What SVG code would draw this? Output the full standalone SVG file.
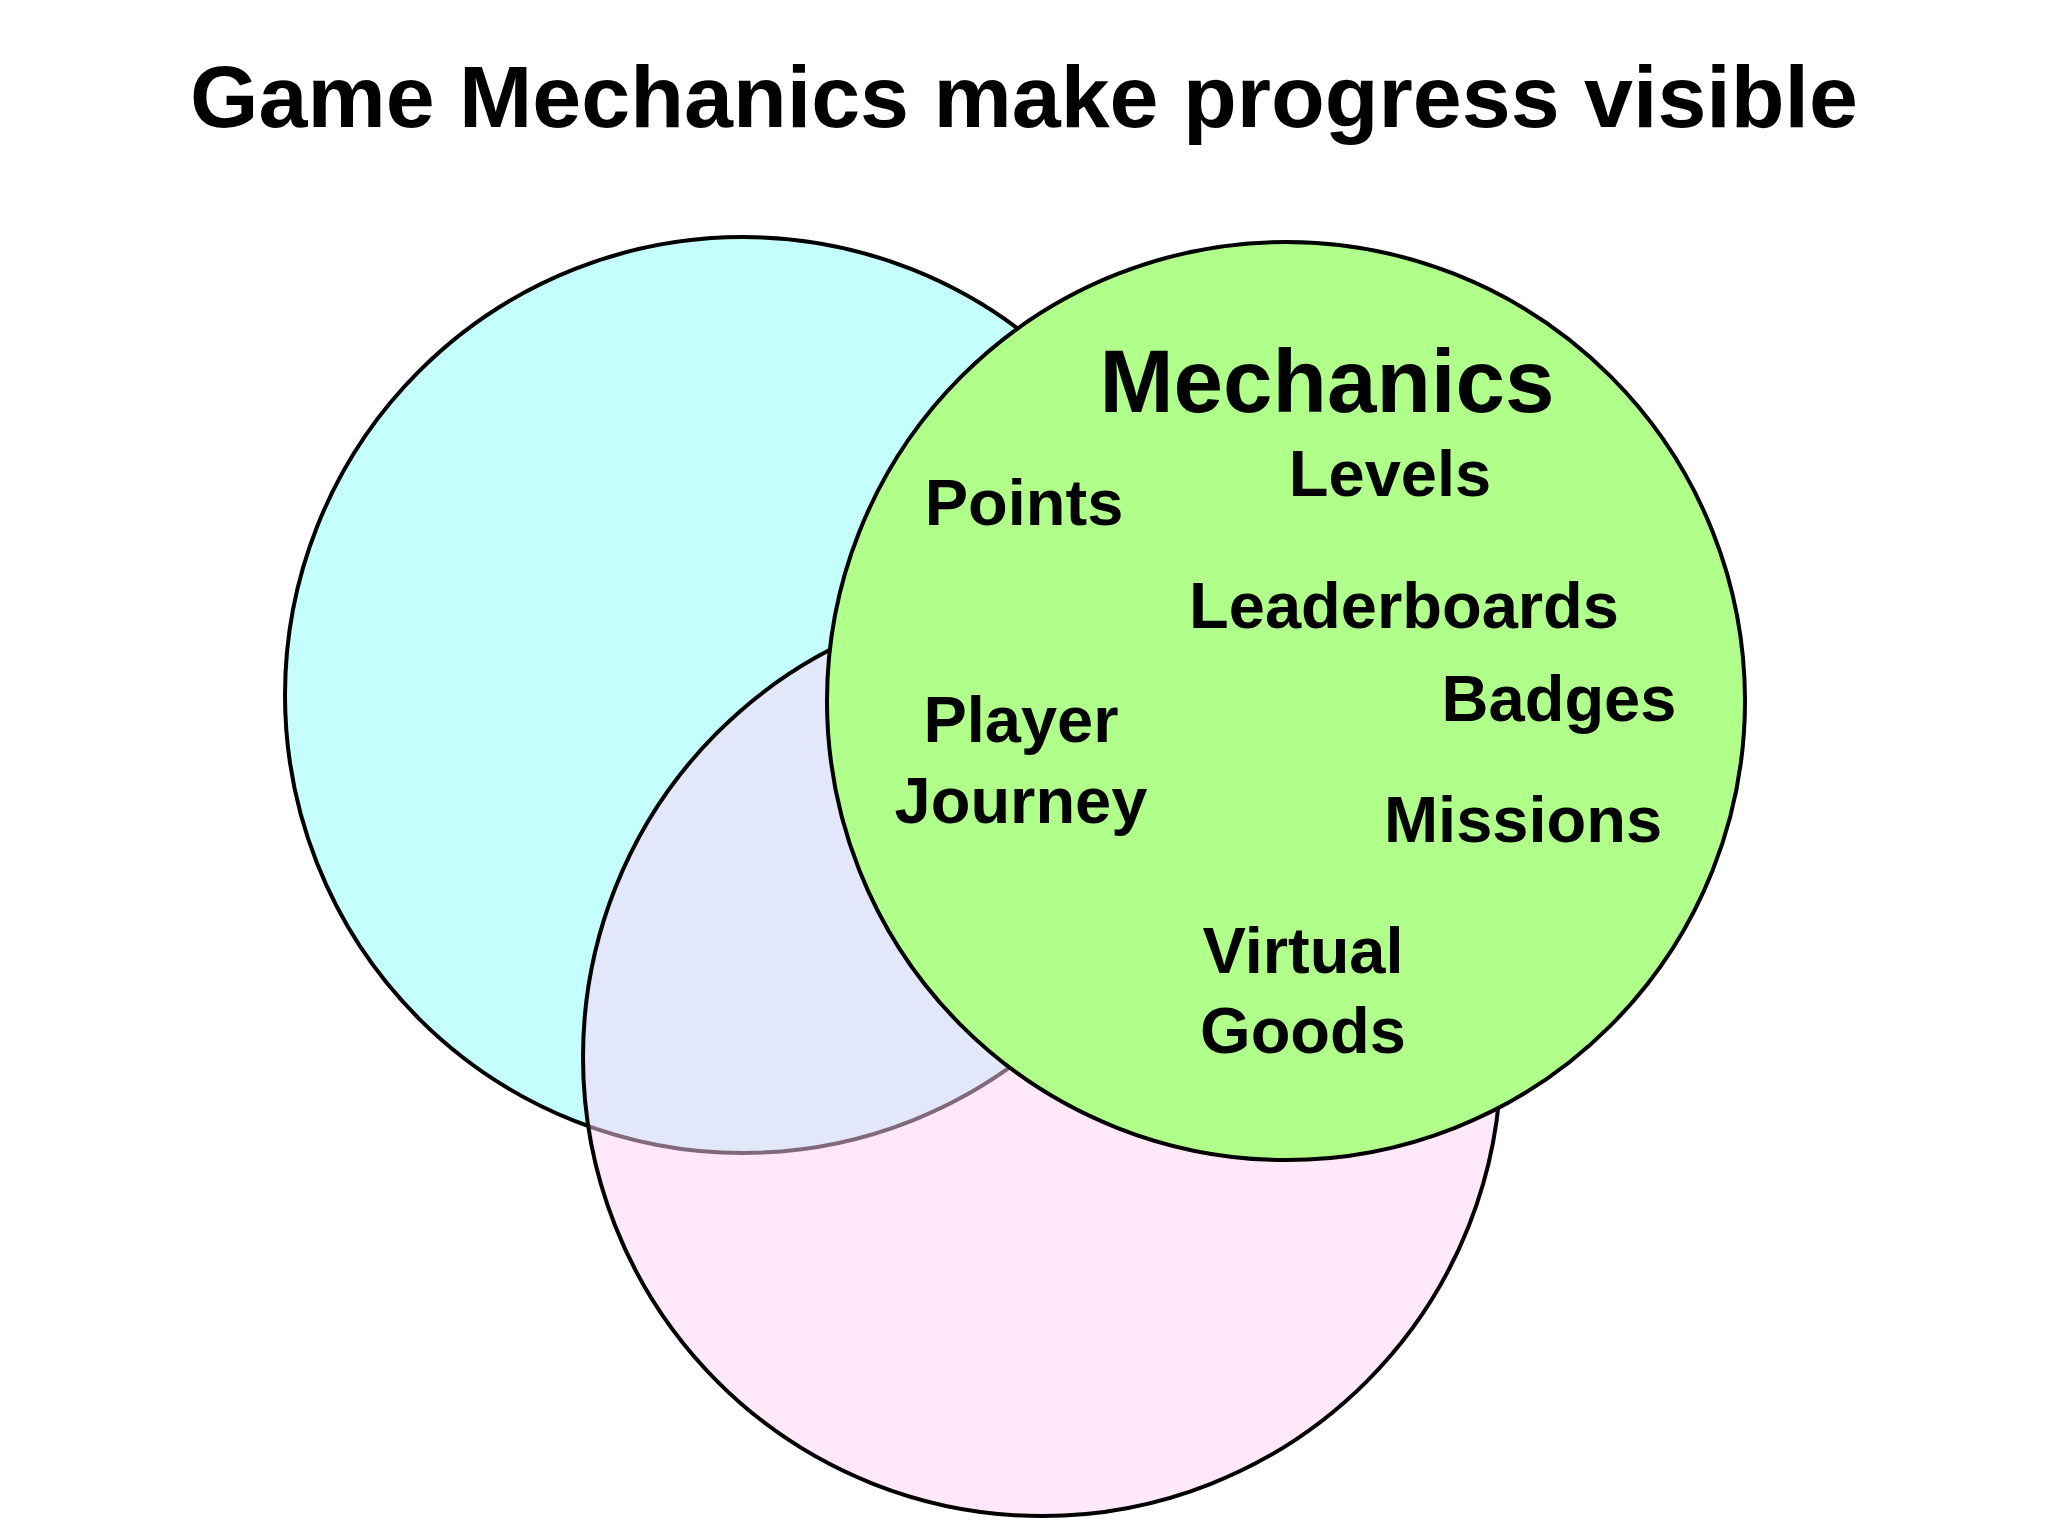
<svg xmlns="http://www.w3.org/2000/svg" width="2048" height="1536" viewBox="0 0 2048 1536">
<style>
.c{stroke:#000;stroke-width:4}
text{font-family:"Liberation Sans",Arial,sans-serif;font-weight:bold;fill:#000;text-anchor:middle}
.l{font-size:65px}
</style>
<rect width="2048" height="1536" fill="#fff"/>
<text x="1024" y="127" font-size="88">Game Mechanics make progress visible</text>
<g id="circle-left"><circle class="c" cx="743" cy="695" r="458" fill="#c4fffe"/></g>
<g id="circle-bottom"><circle class="c" cx="1042" cy="1057" r="459" fill="#ffd1f6" fill-opacity="0.5"/></g>
<g id="circle-mechanics"><circle class="c" cx="1286" cy="701" r="459" fill="#b0ff8a"/>
<text x="1327" y="412" font-size="89">Mechanics</text>
<text class="l" x="1024" y="525">Points</text>
<text class="l" x="1390" y="496">Levels</text>
<text class="l" x="1404" y="628">Leaderboards</text>
<text class="l" x="1559" y="721">Badges</text>
<text class="l" x="1021" y="742">Player</text>
<text class="l" x="1021" y="823">Journey</text>
<text class="l" x="1523" y="842">Missions</text>
<text class="l" x="1303" y="973">Virtual</text>
<text class="l" x="1303" y="1053">Goods</text>
</g>
<g id="connectors"/>
</svg>
